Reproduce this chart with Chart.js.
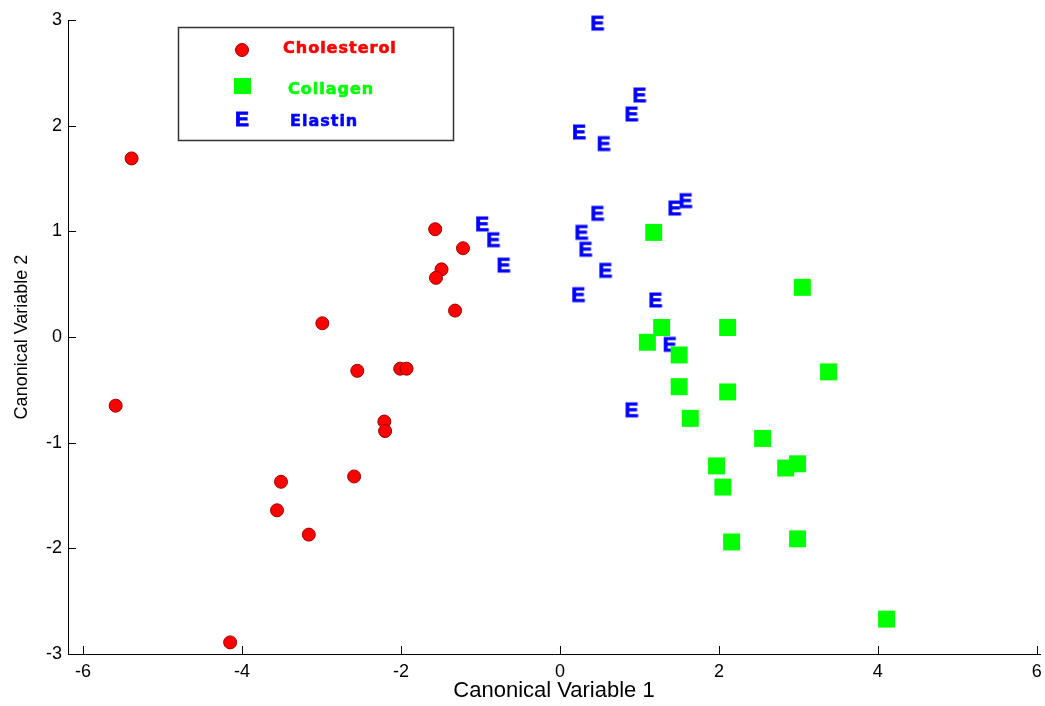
<!DOCTYPE html>
<html>
<head>
<meta charset="utf-8">
<script src="https://cdn.jsdelivr.net/npm/chart.js@4/dist/chart.umd.min.js"></script>
<style>
  html, body { margin: 0; padding: 0; background: #fff; overflow: hidden; }
  #wrap { width: 1045px; height: 706px; position: relative; }
</style>
</head>
<body>
<div id="wrap"><canvas id="chart"></canvas></div>
<script>
// canonical variable scores
const cholesterolX = [-5.39, -5.59, -4.15, -2.99, -2.55, -2.59, -3.51, -3.56, -3.16, -2.21, -2.20, -2.01, -1.93, -1.57, -1.22, -1.49, -1.56, -1.32];
const cholesterolY = [1.69, -0.65, -2.89, 0.13, -0.32, -1.32, -1.37, -1.64, -1.87, -0.80, -0.89, -0.30, -0.30, 1.02, 0.84, 0.64, 0.56, 0.25];

const collagenX = [1.18, 3.05, 1.28, 2.11, 1.10, 1.50, 3.38, 1.50, 2.11, 1.64, 2.55, 1.97, 2.84, 2.99, 2.05, 2.16, 2.99, 4.11];
const collagenY = [0.99, 0.47, 0.09, 0.09, -0.05, -0.17, -0.33, -0.47, -0.52, -0.77, -0.96, -1.22, -1.24, -1.20, -1.42, -1.94, -1.91, -2.67];

const elastinX = [0.47, 1.00, 0.90, 0.24, 0.55, 0.47, 1.58, 1.44, -0.98, -0.84, -0.71, 0.27, 0.32, 0.57, 0.23, 1.20, 1.38, 0.90];
const elastinY = [2.98, 2.30, 2.12, 1.95, 1.84, 1.18, 1.30, 1.23, 1.08, 0.93, 0.69, 1.00, 0.84, 0.64, 0.41, 0.36, -0.06, -0.68];

const xTicks = [-6, -4, -2, 0, 2, 4, 6];
const yTicks = [-3, -2, -1, 0, 1, 2, 3];

const seriesNames = ['Cholesterol', 'Collagen', 'Elastin'];
const seriesColors = ['#ff0000', '#00ff00', '#0000ff'];

const toPoints = (xs, ys) => xs.map((x, i) => ({ x, y: ys[i] }));

// letter "E" marker for elastin
const eMarker = document.createElement('canvas');
eMarker.width = 20;
eMarker.height = 20;
(() => {
  const c = eMarker.getContext('2d');
  c.fillStyle = seriesColors[2];
  c.strokeStyle = seriesColors[2];
  c.lineWidth = 0.8;
  c.font = 'bold 21px "Liberation Sans", Arial, sans-serif';
  c.textAlign = 'center';
  c.textBaseline = 'alphabetic';
  c.fillText('E', 10, 17.5);
  c.strokeText('E', 10, 17.5);
})();

// inward tick marks on the two axis lines
const innerTicks = {
  id: 'innerTicks',
  afterDraw(chart) {
    const { ctx, chartArea, scales } = chart;
    ctx.save();
    ctx.strokeStyle = '#000';
    ctx.lineWidth = 1;
    ctx.beginPath();
    xTicks.forEach((v) => {
      const px = Math.round(scales.x.getPixelForValue(v)) + 0.5;
      ctx.moveTo(px, chartArea.bottom);
      ctx.lineTo(px, chartArea.bottom - 8);
    });
    yTicks.forEach((v) => {
      const py = Math.round(scales.y.getPixelForValue(v)) + 0.5;
      ctx.moveTo(chartArea.left, py);
      ctx.lineTo(chartArea.left + 8, py);
    });
    ctx.stroke();
    ctx.restore();
  }
};

// boxed legend in the upper left
const boxLegend = {
  id: 'boxLegend',
  afterDraw(chart) {
    const { ctx } = chart;
    ctx.save();
    ctx.strokeStyle = '#333';
    ctx.lineWidth = 1.5;
    ctx.strokeRect(178.5, 27.5, 275, 113);

    // cholesterol marker
    ctx.beginPath();
    ctx.arc(242, 50, 6.5, 0, Math.PI * 2);
    ctx.fillStyle = seriesColors[0];
    ctx.fill();
    ctx.strokeStyle = '#900';
    ctx.lineWidth = 1;
    ctx.stroke();
    // collagen marker
    ctx.fillStyle = seriesColors[1];
    ctx.fillRect(234, 78, 17, 16);
    // elastin marker
    ctx.drawImage(eMarker, 242 - 10, 118 - 10);

    ctx.font = 'bold 16px "DejaVu Sans", sans-serif';
    ctx.textBaseline = 'middle';
    ctx.textAlign = 'left';
    ctx.lineWidth = 0.6;
    if ('letterSpacing' in ctx) ctx.letterSpacing = '1px';
    const rows = [[283, 49], [288, 90], [290, 122]];
    seriesNames.forEach((name, i) => {
      ctx.fillStyle = seriesColors[i];
      ctx.strokeStyle = seriesColors[i];
      ctx.fillText(name, rows[i][0], rows[i][1]);
      ctx.strokeText(name, rows[i][0], rows[i][1]);
    });
    ctx.restore();
  }
};

new Chart(document.getElementById('chart'), {
  type: 'scatter',
  data: {
    datasets: [
      {
        label: seriesNames[0],
        data: toPoints(cholesterolX, cholesterolY),
        pointStyle: 'circle',
        pointRadius: 6.5,
        backgroundColor: seriesColors[0],
        borderColor: '#900',
        borderWidth: 1,
        clip: false
      },
      {
        label: seriesNames[1],
        data: toPoints(collagenX, collagenY),
        pointStyle: 'rect',
        pointRadius: 12,
        backgroundColor: seriesColors[1],
        borderWidth: 0,
        clip: false
      },
      {
        label: seriesNames[2],
        data: toPoints(elastinX, elastinY),
        pointStyle: eMarker,
        pointRadius: 10,
        clip: false
      }
    ]
  },
  options: {
    responsive: true,
    maintainAspectRatio: false,
    animation: false,
    layout: { autoPadding: false, padding: { left: 0, top: 20, right: 5, bottom: 0 } },
    plugins: {
      legend: { display: false },
      tooltip: { enabled: false }
    },
    scales: {
      x: {
        type: 'linear',
        min: -6.19,
        max: 6.04,
        afterBuildTicks: (scale) => { scale.ticks = xTicks.map((v) => ({ value: v })); },
        afterFit: (scale) => {
          scale.height = 52;
          scale.paddingLeft = 0;
          scale.paddingRight = 0;
        },
        grid: { drawOnChartArea: false, drawTicks: false },
        border: { display: true, color: '#000', width: 1 },
        ticks: {
          color: '#000',
          padding: 7,
          maxRotation: 0,
          font: { family: '"Liberation Sans", Arial, sans-serif', size: 18 }
        },
        title: {
          display: true,
          text: 'Canonical Variable 1',
          color: '#000',
          padding: { top: 0, bottom: 2 },
          font: { family: '"Liberation Sans", Arial, sans-serif', size: 22 }
        }
      },
      y: {
        type: 'linear',
        min: -3,
        max: 3,
        afterBuildTicks: (scale) => { scale.ticks = yTicks.map((v) => ({ value: v })); },
        afterFit: (scale) => {
          scale.width = 68;
          scale.paddingTop = 0;
          scale.paddingBottom = 0;
        },
        grid: { drawOnChartArea: false, drawTicks: false },
        border: { display: true, color: '#000', width: 1 },
        ticks: {
          color: '#000',
          padding: 6,
          font: { family: '"Liberation Sans", Arial, sans-serif', size: 18 }
        },
        title: {
          display: true,
          text: 'Canonical Variable 2',
          color: '#000',
          padding: { top: 11, bottom: 0 },
          font: { family: '"Liberation Sans", Arial, sans-serif', size: 18 }
        }
      }
    }
  },
  plugins: [innerTicks, boxLegend]
});
</script>
</body>
</html>
